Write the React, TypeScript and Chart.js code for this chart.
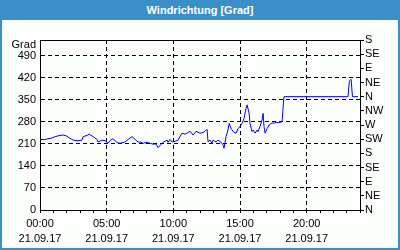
import React, { useEffect, useRef } from "react";
import { Chart, registerables } from "chart.js";

Chart.register(...registerables);

const TITLE = "Windrichtung [Grad]";
const DATE_LABEL = "21.09.17";
const Y_UNIT = "Grad";

const leftTicks = [0, 70, 140, 210, 280, 350, 420, 490];
const unitTickValue = 524;
const rightTicks = [0, 45, 90, 135, 180, 225, 270, 315, 360, 405, 450, 495, 540];
const compassLabels = ["N", "NE", "E", "SE", "S", "SW", "W", "NW", "N", "NE", "E", "SE", "S"];
const hourTicks = [0, 1, 2, 3, 4, 5, 6, 7, 8, 9, 10, 11, 12, 13, 14, 15, 16, 17, 18, 19, 20, 21, 22, 23, 24];
const labeledHours = [0, 5, 10, 15, 20];

const times = [
  "00:00", "00:22", "00:36", "00:54", "01:08", "01:30", "01:44", "01:57", "02:15", "02:29",
  "02:51", "03:09", "03:14", "03:32", "03:41", "03:59", "04:17", "04:21", "04:39", "04:53",
  "05:06", "05:20", "05:29", "05:47", "06:00", "06:23", "06:36", "06:54", "07:08", "07:21",
  "07:30", "07:44", "08:02", "08:15", "08:29", "08:42", "08:51", "09:05", "09:14", "09:32",
  "09:36", "09:45", "09:54", "10:08", "10:21", "10:39", "10:53", "11:06", "11:15", "11:29",
  "11:42", "12:00", "12:14", "12:32", "12:36", "12:45", "12:54", "12:59", "13:12", "13:21",
  "13:39", "13:44", "13:48", "13:57", "14:06", "14:11", "14:20", "14:29", "14:42", "14:51",
  "15:00", "15:09", "15:18", "15:27", "15:32", "15:41", "15:45", "15:54", "15:59", "16:08",
  "16:17", "16:21", "16:30", "16:39", "16:44", "16:48", "16:53", "17:02", "17:11", "17:24",
  "17:33", "17:42", "17:51", "18:00", "18:09", "18:14", "18:18", "23:06", "23:12", "23:20",
  "23:26", "23:51",
];

const values = [
  224, 224, 226, 229, 233, 237, 238, 236, 228, 222,
  220, 222, 233, 237, 241, 233, 224, 216, 222, 220,
  212, 224, 226, 214, 212, 216, 224, 233, 224, 216,
  216, 212, 215, 212, 209, 210, 198, 209, 215, 222,
  215, 224, 216, 218, 222, 244, 241, 246, 250, 238,
  250, 244, 246, 256, 217, 222, 212, 222, 216, 222,
  212, 206, 196, 233, 254, 275, 259, 249, 244, 259,
  265, 275, 291, 323, 334, 307, 275, 249, 254, 244,
  254, 249, 265, 286, 307, 265, 244, 259, 270, 277,
  275, 279, 277, 279, 280, 325, 360, 360, 410, 415,
  360, 360,
];

function toHours(t: string): number {
  const [h, m] = t.split(":").map(Number);
  return h + m / 60;
}

function fmtHour(h: number): string {
  return (h < 10 ? "0" : "") + h + ":00";
}

const FONT_FAMILY = "'Liberation Sans', Arial, sans-serif";

export default function App() {
  const ref = useRef<HTMLCanvasElement>(null);

  useEffect(() => {
    const font = { family: FONT_FAMILY, size: 11 };
    const chart = new Chart(ref.current!, {
      type: "line",
      data: {
        datasets: [
          {
            data: times.map((t, i) => ({ x: toHours(t), y: values[i] })),
            borderColor: "#0000ff",
            borderWidth: 1,
            pointRadius: 0,
            tension: 0,
            fill: false,
          },
        ],
      },
      options: {
        animation: false,
        responsive: false,
        maintainAspectRatio: false,
        events: [],
        layout: { padding: 0 },
        plugins: {
          legend: { display: false },
          tooltip: { enabled: false },
          title: { display: false },
        },
        scales: {
          x: {
            type: "linear",
            position: "bottom",
            min: 0,
            max: 24,
            afterBuildTicks: (ax: any) => {
              ax.ticks = hourTicks.map((v) => ({ value: v }));
            },
            afterFit: (s: any) => {
              s.height = 40;
            },
            ticks: {
              autoSkip: false,
              maxRotation: 0,
              minRotation: 0,
              padding: 3,
              color: "#000",
              font: { ...font, lineHeight: 15 / 11 },
              callback: (v: any) =>
                labeledHours.includes(Number(v)) ? [fmtHour(Number(v)), DATE_LABEL] : "",
            },
            grid: {
              drawOnChartArea: true,
              color: (ctx: any) =>
                ctx.tick && labeledHours.includes(ctx.tick.value) && ctx.tick.value !== 0
                  ? "#000"
                  : "rgba(0,0,0,0)",
              lineWidth: 1,
              drawTicks: true,
              tickLength: 3,
              tickColor: "#000",
              tickWidth: 1,
            },
            border: { display: true, color: "#000", width: 1, dash: [4, 3] },
          },
          x2: {
            type: "linear",
            position: "top",
            min: 0,
            max: 24,
            afterFit: (s: any) => {
              s.height = 40;
            },
            ticks: { display: false },
            grid: { display: false, drawTicks: false },
            border: { display: true, color: "#000", width: 1 },
          },
          y: {
            type: "linear",
            position: "left",
            min: 0,
            max: 540,
            afterBuildTicks: (ax: any) => {
              ax.ticks = [...leftTicks.map((v) => ({ value: v })), { value: unitTickValue }];
            },
            afterFit: (s: any) => {
              s.width = 40;
            },
            ticks: {
              autoSkip: false,
              padding: 4,
              color: "#000",
              font,
              callback: (v: any) => (Number(v) === unitTickValue ? Y_UNIT : String(v)),
            },
            grid: {
              drawTicks: false,
              color: (ctx: any) =>
                ctx.tick && ctx.tick.value !== unitTickValue && ctx.tick.value !== 0
                  ? "#000"
                  : "rgba(0,0,0,0)",
              lineWidth: 1,
            },
            border: { display: true, color: "#000", width: 1, dash: [4, 3] },
          },
          y2: {
            type: "linear",
            position: "right",
            min: 0,
            max: 540,
            afterBuildTicks: (ax: any) => {
              ax.ticks = rightTicks.map((v) => ({ value: v }));
            },
            afterFit: (s: any) => {
              s.width = 40;
            },
            ticks: {
              autoSkip: false,
              padding: 1,
              color: "#000",
              font,
              callback: (_v: any, i: number) => compassLabels[i],
            },
            grid: {
              drawOnChartArea: false,
              drawTicks: true,
              tickLength: 4,
              tickColor: "#000",
              tickWidth: 1,
            },
            border: { display: true, color: "#000", width: 1 },
          },
        },
      } as any,
    });
    return () => chart.destroy();
  }, []);

  return (
    <div
      style={{
        position: "absolute",
        left: 0,
        top: 0,
        width: 400,
        height: 250,
        background: "#3b8fc9",
        overflow: "hidden",
      }}
    >
      <div
        style={{
          position: "absolute",
          left: 0,
          top: 0,
          width: 400,
          height: 20,
          lineHeight: "20px",
          textAlign: "center",
          color: "#ffffff",
          fontFamily: FONT_FAMILY,
          fontWeight: "bold",
          fontSize: 11,
        }}
      >
        {TITLE}
      </div>
      <div
        style={{
          position: "absolute",
          left: 2,
          top: 20,
          width: 396,
          height: 228,
          background: "#fbfefb",
        }}
      />
      <canvas
        ref={ref}
        width={400}
        height={250}
        style={{ position: "absolute", left: 0, top: 0, width: 400, height: 250 }}
      />
    </div>
  );
}
